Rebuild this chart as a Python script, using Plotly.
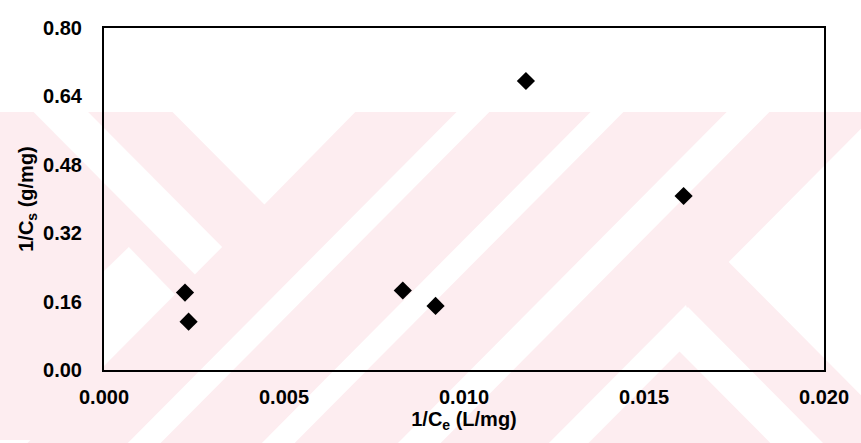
import plotly.graph_objects as go

# Reciprocal equilibrium data (Langmuir linearisation)
inv_ce = [0.00225, 0.00235, 0.00830, 0.00921, 0.01172, 0.01610]   # 1/Ce (L/mg)
inv_cs = [0.181, 0.113, 0.186, 0.150, 0.676, 0.407]               # 1/Cs (g/mg)

x_ticks = [0.000, 0.005, 0.010, 0.015, 0.020]
x_tick_text = ["0.000", "0.005", "0.010", "0.015", "0.020"]
y_ticks = [0.00, 0.16, 0.32, 0.48, 0.64, 0.80]
y_tick_text = ["0.00", "0.16", "0.32", "0.48", "0.64", "0.80"]

W, H = 861, 443
L, R, T, B = 104, 32, 28, 73
PW, PH = W - L - R, H - T - B

FONT = "Liberation Sans, Arial, sans-serif"
PINK = "#FDEDF0"


def to_paper(px, py):
    return (px - L) / PW, (H - B - py) / PH


def poly(points, color):
    pts = [to_paper(x, y) for x, y in points]
    d = "M " + " L ".join(f"{x:.5f},{y:.5f}" for x, y in pts) + " Z"
    return dict(type="path", path=d, xref="paper", yref="paper",
                fillcolor=color, line=dict(width=0), layer="below")


# background band with diagonal stripes
shapes = [poly([(-5, 112), (870, 112), (870, 450), (-5, 450)], PINK)]
white_parts = [
    [(173, 112), (357, 112), (265.5, 204.5)],
    [(33, 112), (88, 112), (223, 247), (195.5, 274.5)],
    [(459, 112), (492, 112), (161, 443), (128, 443)],
    [(594, 112), (627, 112), (296, 443), (263, 443)],
    [(731, 112), (774, 112), (443, 443), (400, 443)],
    [(104, 271), (129, 247), (175.5, 294.5), (151.5, 318.5), (104, 366)],
    [(-10, 480), (-10, 440), (30, 440)],
    [(733, 262), (900, 95), (900, 429)],
    [(692, 307), (665.5, 333.5), (792, 460), (845, 460)],
    [(690, 305), (530, 465), (570, 465), (700, 335)],
]
for p in white_parts:
    shapes.append(poly(p, "white"))

fig = go.Figure()
fig.add_trace(go.Scatter(
    x=inv_ce, y=inv_cs, mode="markers",
    marker=dict(symbol="diamond", size=14, color="black",
                line=dict(width=0)),
    showlegend=False,
))

axis_common = dict(
    showline=True, linecolor="black", linewidth=2, mirror=True,
    showgrid=False, zeroline=False, ticks="",
    tickfont=dict(family=FONT, size=20, color="black", weight="bold"),
)

fig.update_layout(
    width=W, height=H,
    margin=dict(l=L, r=R, t=T, b=B),
    paper_bgcolor="white", plot_bgcolor="rgba(0,0,0,0)",
    shapes=shapes,
    xaxis=dict(range=[0, 0.020], tickvals=x_ticks, ticktext=x_tick_text,
               ticklabelstandoff=8,
               title=dict(text="1/C<sub>e</sub> (L/mg)", standoff=4,
                          font=dict(family=FONT, size=20, color="black",
                                    weight="bold")),
               **axis_common),
    yaxis=dict(range=[0, 0.80], tickvals=y_ticks, ticktext=y_tick_text,
               ticklabelstandoff=16,
               title=dict(text="1/C<sub>s</sub> (g/mg)", standoff=4,
                          font=dict(family=FONT, size=20, color="black",
                                    weight="bold")),
               **axis_common),
)

fig.write_html("out.html")
